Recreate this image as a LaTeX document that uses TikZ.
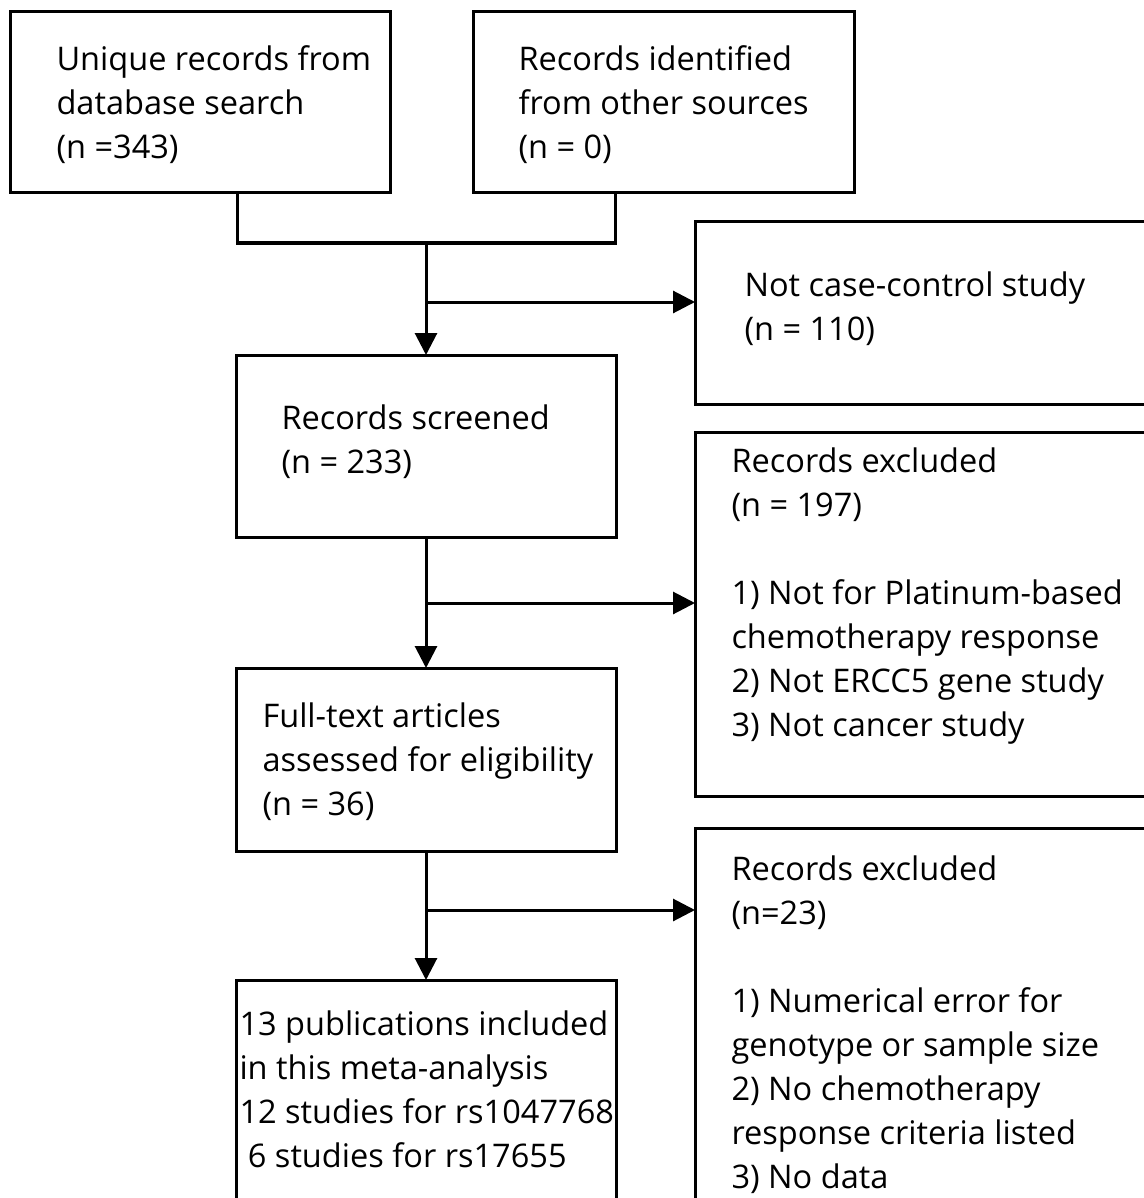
\documentclass[tikz,border=0pt]{standalone}
\usepackage{fontspec}
\setmainfont{Open Sans}
\usetikzlibrary{arrows.meta}
\begin{document}
\begin{tikzpicture}[x=0.75pt,y=-0.75pt,line width=2.25pt,
  bx/.style 2 args={draw,rectangle,inner sep=0pt,outer sep=0pt,minimum width=#1*0.75pt,minimum height=#2*0.75pt},
  txt/.style={anchor=north west,align=left,inner sep=0pt,font=\fontsize{24.4pt}{33pt}\selectfont},
  arr/.style={-{Triangle[length=16.5pt,width=16.5pt]}}]
\useasboundingbox (0,0) rectangle (1144,1198);
\clip (0,0) rectangle (1144,1198);
% boxes
\node[bx={380}{181}] (A) at (200,102.5) {};
\node[bx={381}{181}] (B) at (663.5,102.5) {};
\node[bx={505}{182}] (D) at (947.5,313) {};
\node[bx={380}{182}] (C) at (426,446) {};
\node[bx={505}{364}] (E) at (947.5,614) {};
\node[bx={380}{183}] (F) at (426,759.5) {};
\node[bx={505}{422}] (H) at (947.5,1039) {};
\node[bx={380}{270}] (G) at (426,1115) {};
% texts
\node[txt] (tA) at (55,38) {\strut Unique records from\\database search\\(n =343)};
\node[txt] (tB) at (517,38) {\strut Records identified\\from other sources\\(n = 0)};
\node[txt] (tD) at (743,264) {\strut Not case-control study\\(n = 110)};
\node[txt] (tC) at (280,397) {\strut Records screened\\(n = 233)};
\node[txt] (tE) at (730,440) {\strut Records excluded\\(n = 197)\\[33pt]1) Not for Platinum-based\\chemotherapy response\\2) Not ERCC5 gene study\\3) Not cancer study};
\node[txt] (tF) at (261,695) {\strut Full-text articles\\assessed for eligibility\\(n = 36)};
\node[txt] (tH) at (730,848) {\strut Records excluded\\(n=23)\\[33pt]1) Numerical error for\\genotype or sample size\\2) No chemotherapy\\response criteria listed\\3) No data};
\node[txt] (tG) at (238,1003) {\strut 13 publications included\\in this meta-analysis\\12 studies for rs1047768\\\ 6 studies for rs17655};
% connectors
\coordinate (j1) at (237,243);
\coordinate (j2) at (615,243);
\coordinate (m) at (426,243);
\coordinate (b1) at (426,302);
\coordinate (b2) at (426,603);
\coordinate (b3) at (426,910);
\draw (A.south -| j1) -- (j1) -- (j2) -- (B.south -| j2);
\draw[arr] (m) -- (C.north);
\draw[arr] (b1) -- (b1 -| D.west);
\draw[arr] (C.south) -- (F.north);
\draw[arr] (b2) -- (b2 -| E.west);
\draw[arr] (F.south) -- (G.north);
\draw[arr] (b3) -- (b3 -| H.west);
\end{tikzpicture}
\end{document}
